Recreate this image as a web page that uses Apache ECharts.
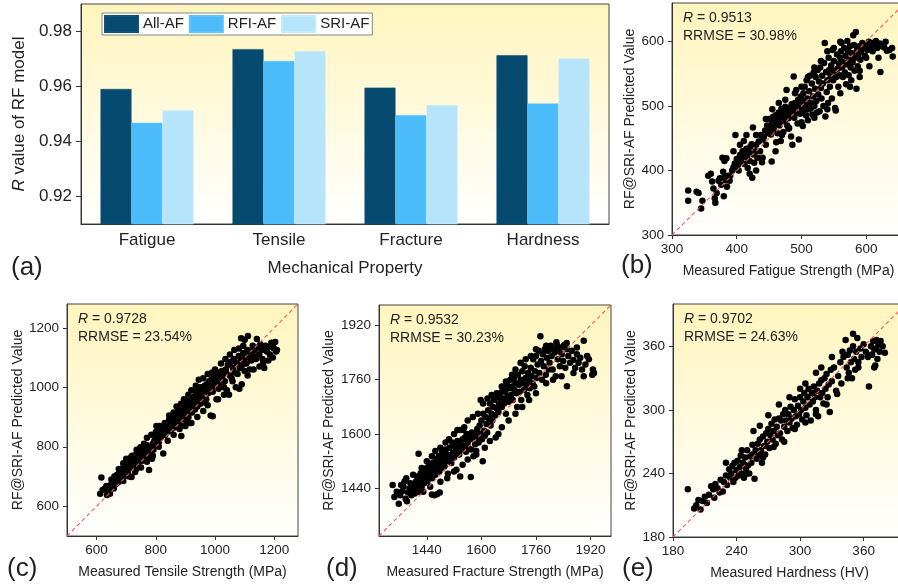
<!DOCTYPE html>
<html>
<head>
<meta charset="utf-8">
<script src="https://cdn.jsdelivr.net/npm/echarts@6/dist/echarts.min.js"></script>
<style>html,body{margin:0;padding:0;background:#fff;}#c{width:898px;height:585px;}</style>
</head>
<body>
<div id="c"></div>
<script>
// ---------- DATA ----------
const categories = ['Fatigue', 'Tensile', 'Fracture', 'Hardness'];
const seriesNames = ['All-AF', 'RFI-AF', 'SRI-AF'];
const allAF = [0.9591, 0.9736, 0.9596, 0.9714];
const rfiAF = [0.9468, 0.9693, 0.9496, 0.9538];
const sriAF = [0.9513, 0.9728, 0.9532, 0.9702];
const barYTicks = [0.92, 0.94, 0.96, 0.98];

const fatigueTicks = [300, 400, 500, 600];
const tensileTicks = [600, 800, 1000, 1200];
const fractureTicks = [1440, 1600, 1760, 1920];
const hardnessTicks = [180, 240, 300, 360];

const fatigueRange = [300, 660];
const tensileRange = [500, 1280];
const fractureRange = [1300, 1980];
const hardnessRange = [180, 400];

const fatigueStats = ['0.9513', '30.98%'];
const tensileStats = ['0.9728', '23.54%'];
const fractureStats = ['0.9532', '30.23%'];
const hardnessStats = ['0.9702', '24.63%'];

const fatiguePts = [
[325,369],[325,353],[338,367],[341,365],[345,341],[347,353],[356,392],[360,395],[362,383],[364,372],[366,357],[367,350],[369,365],[372,384],[374,388],[376,378],[379,398],[380,360],[381,390],[383,385],[385,375],[387,392],[389,384],
[378,420],[381,415],[384,419],[390,392],[393,400],[395,405],[397,411],[398,455],[400,418],[402,409],[403,400],[405,424],[406,415],[408,420],[409,430],[411,446],[412,410],[413,425],[415,434],[416,420],[417,404],[419,428],[420,415],[421,437],[423,441],[424,389],[425,467],[426,425],[427,412],[429,430],[430,440],[432,420],[434,445],[436,430],[437,455],
[439,413],[440,448],[442,452],[444,462],[445,440],[447,470],[449,458],[450,480],[451,466],[453,456],[454,414],[455,475],[456,483],[457,465],[459,472],[460,486],[461,444],[462,478],[463,458],[465,490],[466,470],[467,482],[468,446],[469,496],[470,476],[471,488],[472,460],[473,491],[474,478],[475,499],[476,485],[477,525],[478,470],[479,492],[480,481],[481,466],[482,497],[483,487],[484,453],[485,503],[486,440],[487,495],[488,546],[489,482],[490,505],[491,489],[492,525],[493,498],[494,473],[495,510],[496,448],[497,502],[498,488],[499,515],[500,497],
[501,508],[502,469],[503,520],[504,492],[505,530],[506,502],[507,486],[508,540],[509,512],[510,478],[511,495],[512,523],[513,547],[514,505],[515,497],[516,535],[517,487],[518,515],[519,552],[520,500],[521,527],[522,545],[523,508],[524,490],[525,556],[526,518],[527,538],[528,492],[529,560],[530,528],[531,512],[532,547],[533,535],[534,500],[535,567],[536,598],[537,484],[538,553],[539,522],[540,540],[541,505],[542,575],[543,556],[544,530],[545,548],[546,563],[547,512],[548,587],[549,540],[550,570],[551,555],[552,497],[553,493],[554,545],[555,580],[556,558],[557,530],[558,566],[559,548],[560,575],
[561,585],[562,598],[563,560],[564,545],[565,568],[566,590],[567,552],[568,578],[569,534],[570,565],[571,601],[572,585],[573,548],[574,572],[575,593],[576,560],[577,540],[578,582],[579,568],[580,610],[581,595],[582,555],[583,575],[584,615],[585,527],[586,588],[587,562],[588,580],[589,593],[590,545],[591,572],[592,585],[594,598],[596,590],[598,578],[600,595],[602,587],[604,600],[605,562],[607,592],[609,598],[612,596],[615,601],[617,590],[619,575],[621,597],[622,553],[625,593],[628,591],[632,586],[636,587],[641,577],
[395,430],[405,440],[415,455],[430,455],[445,480],[455,495],[465,505],[475,510],[490,520],[500,530],[510,545],[520,560],[530,570],[540,585],[550,590],[560,600],[470,455],[480,465],[500,475],[520,482],[540,495],[560,520],[575,530],[590,555],[600,575],[610,585],[630,600],[640,590],[420,395],[440,420],[460,430],[430,400]
];

const tensilePts = [
[612,642],[616,697],[628,660],[635,638],[640,650],[645,642],[648,672],[652,665],[655,685],[658,660],[662,690],[665,675],[668,705],[670,695],[672,680],[675,710],[678,700],[680,690],[683,720],[686,705],[688,715],[690,730],[692,700],[695,740],[697,718],[700,725],
[702,750],[704,735],[706,710],[708,745],[710,728],[712,755],[714,740],[716,765],[718,698],[720,748],[722,760],[724,735],[726,770],[728,752],[730,740],[732,762],[734,725],[736,780],[738,758],[740,745],[742,770],[745,790],[747,760],[750,775],[752,752],[755,785],[757,768],[760,795],[762,778],[765,760],[767,790],[770,805],[772,770],[775,795],[777,722],[780,785],[782,800],[785,770],[787,760],[790,810],[792,790],[795,820],[798,805],[800,835],
[802,870],[804,850],[806,825],[808,840],[810,815],[812,855],[814,845],[816,830],[818,860],[820,838],[822,848],[825,777],[827,870],[830,855],[832,840],[834,875],[836,860],[838,850],[840,880],[843,865],[845,892],[848,870],[850,855],[852,885],[855,900],[857,875],[860,890],[862,865],[865,905],[867,885],[870,915],[872,895],[875,880],[877,920],[880,905],[882,890],[885,925],[887,870],[890,910],[892,935],[895,900],[897,920],[900,890],
[902,945],[904,910],[906,930],[908,955],[910,900],[912,925],[914,945],[916,880],[918,935],[920,955],[922,915],[925,960],[927,940],[930,970],[932,925],[935,950],[937,985],[940,935],[942,960],[945,1000],[947,975],[950,945],[952,990],[955,1000],[957,965],[960,985],[962,950],[965,1005],[967,990],[970,960],[972,1010],[975,995],[977,980],[980,1020],[982,1000],[985,905],[987,1025],[990,995],[992,985],[995,1035],[997,1010],[1000,1040],
[1002,1015],[1005,960],[1008,1045],[1010,1025],[1012,995],[1015,1050],[1018,1035],[1020,1010],[1023,1055],[1026,1040],[1030,1000],[1033,1020],[1036,1060],[1040,990],[1043,1075],[1047,975],[1050,1040],[1053,1085],[1056,1030],[1060,1065],[1063,1095],[1066,1050],[1070,1000],[1073,1080],[1076,1045],[1080,1105],[1083,1065],[1086,1090],[1088,1165],[1090,1010],[1092,1075],[1095,1115],[1098,1095],[1100,1055],
[1103,1110],[1106,1080],[1109,1125],[1111,1172],[1114,1100],[1117,1060],[1120,1120],[1123,1090],[1127,1140],[1130,1105],[1134,1125],[1138,1095],[1141,1162],[1145,1135],[1149,1110],[1153,1145],[1157,1125],[1162,1080],[1166,1065],[1170,1140],[1175,1120],[1180,1135],[1185,1110],[1190,1150],[1195,1145],[1199,1130],[1203,1152],[1206,1120],[1209,1125],
[620,655],[633,668],[650,690],[660,700],[675,725],[690,745],[700,760],[720,770],[735,790],[748,798],[760,810],[770,830],[785,840],[800,850],[812,870],[830,880],[845,905],[860,915],[870,935],[885,945],[895,960],[910,975],[920,990],[935,1005],[945,1025],[960,1030],[975,1045],[990,1050],[1000,1060],[1020,1080],[1035,1095],[1050,1110],[1065,1125],[1080,1130],[1095,1140],[1100,1160],
[690,685],[710,700],[730,715],[750,730],[770,750],[790,770],[810,800],[840,820],[860,840],[880,860],[886,836],[900,870],[920,880],[940,900],[960,920],[975,940],[992,903],[1010,960],[1030,975],[1037,1053],[1059,1020],[1082,995],[1110,1040],[1130,1060],[1150,1070],[1160,1095],[1180,1090],[1195,1100]
];

const fracturePts = [
[1358,1395],[1362,1420],[1368,1432],[1372,1445],[1375,1461],[1378,1410],[1382,1402],[1385,1428],[1390,1440],[1395,1420],[1398,1435],[1402,1450],[1405,1425],[1408,1460],[1410,1440],[1412,1475],[1415,1455],[1416,1542],[1418,1430],[1420,1468],[1422,1485],[1425,1445],[1428,1490],[1430,1470],[1432,1455],[1435,1495],[1437,1480],[1440,1500],[1442,1462],[1445,1488],[1447,1512],[1450,1475],
[1455,1422],[1462,1420],[1470,1423],[1478,1428],
[1452,1500],[1455,1470],[1457,1515],[1460,1490],[1462,1505],[1465,1480],[1467,1525],[1470,1495],[1472,1510],[1475,1535],[1477,1490],[1480,1520],[1482,1500],[1485,1545],[1487,1515],[1490,1530],[1492,1505],[1495,1555],[1497,1520],[1500,1540],[1502,1483],[1505,1525],[1507,1560],[1510,1535],[1512,1515],[1515,1575],[1517,1545],[1520,1530],[1522,1565],[1525,1550],[1527,1495],[1530,1580],[1532,1560],[1535,1540],[1537,1612],[1540,1570],[1542,1555],[1545,1585],[1547,1612],[1550,1565],
[1538,1475],[1569,1474],
[1552,1590],[1555,1548],[1557,1600],[1560,1575],[1562,1560],[1565,1595],[1567,1585],[1570,1555],[1572,1605],[1575,1590],[1577,1535],[1580,1600],[1582,1570],[1585,1550],[1588,1615],[1590,1590],[1592,1575],[1595,1625],[1597,1600],[1600,1640],[1602,1585],[1604,1520],[1606,1660],[1608,1610],[1610,1595],[1612,1650],[1615,1630],[1617,1605],[1620,1670],[1622,1645],[1625,1690],[1627,1625],[1630,1660],[1632,1640],[1635,1680],[1637,1700],[1640,1655],[1642,1590],[1645,1675],[1647,1710],[1650,1665],[1598,1700],
[1652,1690],[1655,1720],[1657,1700],[1660,1680],[1662,1735],[1665,1705],[1667,1690],[1670,1725],[1672,1660],[1675,1745],[1677,1710],[1680,1695],[1682,1735],[1685,1760],[1687,1715],[1690,1740],[1692,1700],[1695,1765],[1697,1730],[1700,1750],[1702,1720],[1705,1680],[1707,1775],[1710,1745],[1712,1725],[1715,1760],[1717,1700],[1720,1785],[1722,1750],[1725,1730],[1727,1800],[1730,1765],[1732,1745],[1735,1715],[1737,1780],[1740,1760],[1742,1735],[1745,1795],[1747,1770],[1750,1750],
[1752,1820],[1755,1740],[1757,1785],[1760,1830],[1762,1765],[1765,1805],[1768,1845],[1770,1780],[1773,1888],[1775,1815],[1778,1760],[1780,1835],[1783,1800],[1786,1850],[1789,1775],[1792,1825],[1795,1845],[1798,1790],[1800,1810],[1803,1860],[1806,1830],[1809,1790],[1812,1850],[1815,1840],[1818,1770],[1821,1862],[1824,1820],[1827,1845],[1830,1800],[1833,1855],[1836,1835],[1840,1815],[1843,1862],[1846,1795],[1850,1850],[1851,1741],[1855,1830],[1860,1810],[1865,1845],[1870,1818],[1875,1795],[1880,1835],[1885,1810],[1890,1825],[1895,1790],[1900,1875],[1905,1805],[1910,1830],[1915,1820],[1927,1790],[1930,1780],
[1340,1450],[1345,1415],[1352,1430],[1365,1450],[1380,1470],[1392,1455],[1400,1480],[1425,1500],[1440,1520],[1455,1535],[1465,1550],[1480,1560],[1495,1575],[1505,1585],[1520,1600],[1530,1612],[1550,1620],[1560,1640],[1575,1650],[1590,1660],[1605,1690],[1618,1705],[1630,1715],[1645,1720],[1660,1740],[1672,1755],[1690,1775],[1700,1790],[1715,1810],[1730,1820],[1745,1830],[1760,1850],[1790,1860],[1820,1870],[1850,1868],[1880,1855],
[1430,1430],[1450,1445],[1480,1460],[1500,1470],[1520,1490],[1545,1510],[1560,1525],[1585,1540],[1610,1560],[1625,1580],[1650,1600],[1660,1620],[1680,1640],[1700,1660],[1720,1680],[1740,1700],[1760,1720],[1790,1750],[1810,1760],[1835,1770],[1870,1780],[1900,1770],[1925,1775]
];

const hardnessPts = [
[194,225],[200,207],[202,210],[204,215],[206,206],[208,214],[210,218],[212,212],[214,220],[216,228],[218,225],[219,217],[220,230],[222,226],[224,222],[225,234],[227,223],[228,232],[230,238],[231,229],[233,244],[234,236],[235,240],[236,247],[237,232],[238,250],[239,236],[240,243],
[241,252],[242,238],[243,246],[244,257],[245,240],[246,250],[247,236],[248,255],[249,245],[250,262],[251,248],[252,240],[253,256],[254,250],[255,267],[256,280],[257,235],[258,262],[259,254],[260,268],[261,258],[262,272],[263,262],[264,250],[265,275],[266,266],[267,258],[268,278],[269,270],[270,282],[271,264],[272,276],[273,287],[274,272],[275,280],[276,291],[277,268],[278,284],[279,276],[280,292],
[281,278],[282,290],[283,272],[284,296],[285,284],[286,300],[287,290],[288,280],[289,296],[290,288],[291,303],[292,292],[293,283],[294,300],[295,310],[296,294],[297,286],[298,304],[299,296],[300,312],[301,300],[302,291],[303,308],[304,316],[305,302],[306,295],[307,312],[308,320],[309,305],[310,290],[311,316],[312,308],[313,322],[314,312],[315,300],[316,318],[317,294],[318,325],[319,312],[320,328],
[321,316],[322,306],[323,330],[324,320],[325,334],[326,312],[327,324],[328,298],[329,338],[330,327],[332,340],[334,318],[336,332],[338,345],[339,325],[341,350],[343,366],[344,340],[345,352],[346,335],[347,356],[348,345],[349,330],[350,360],[351,348],[352,338],[353,355],[354,368],[355,345],[357,358],[358,350],[360,362],[362,355],[364,350],[365,322],[367,360],[368,352],[369,365],[370,357],[371,342],[372,358],[373,348],[374,362],[375,355],[376,365],[378,360],[380,354],
[230,250],[245,262],[255,258],[262,285],[270,295],[280,305],[290,312],[300,320],[305,325],[315,335],[320,340],[330,350],[340,355],[350,372],[250,240],[265,255],[275,265],[285,270],[295,282],[305,288],[315,296],[325,305],[335,315],[345,330],[355,340],[370,340],[372,366],[367,352]
];

// ---------- LAYOUT / STYLE ----------
const FONT = "'Liberation Sans', Arial, Helvetica, sans-serif";
const AXC = '#333';
const TXT = '#222';
const bgGrad = {type:'linear', x:0, y:0, x2:0, y2:1, colorStops:[{offset:0,color:'#fff5bd'},{offset:1,color:'#ffffff'}]};

const grids = [
  {left:81, top:4, width:528, height:220},
  {left:672, top:3, width:233, height:232},
  {left:67, top:304, width:231, height:232},
  {left:379, top:305, width:232, height:231},
  {left:673, top:304, width:233, height:233}
];
grids.forEach(g => { g.show = true; g.backgroundColor = bgGrad; g.borderColor = '#444'; g.borderWidth = 1; g.containLabel = false; g.outerBoundsMode = 'none'; });

const panels = [
  {range: fatigueRange, ticks: fatigueTicks, pts: fatiguePts, stats: fatigueStats, xName: 'Measured Fatigue Strength (MPa)', yGap: 32, label:'(b)', lx:621, ly:268},
  {range: tensileRange, ticks: tensileTicks, pts: tensilePts, stats: tensileStats, xName: 'Measured Tensile Strength (MPa)', yGap: 40, label:'(c)', lx:7, ly:571},
  {range: fractureRange, ticks: fractureTicks, pts: fracturePts, stats: fractureStats, xName: 'Measured Fracture Strength (MPa)', yGap: 43, label:'(d)', lx:326, ly:571},
  {range: hardnessRange, ticks: hardnessTicks, pts: hardnessPts, stats: hardnessStats, xName: 'Measured Hardness (HV)', yGap: 32, label:'(e)', lx:622, ly:571}
];

const xAxes = [{
  type:'category', gridIndex:0, data: categories,
  axisLine:{lineStyle:{color:AXC, width:1}},
  axisTick:{alignWithLabel:true, length:5, lineStyle:{color:AXC}},
  axisLabel:{fontFamily:FONT, fontSize:17, color:TXT, margin:8},
  name:'Mechanical Property', nameLocation:'middle', nameGap:36,
  nameTextStyle:{fontFamily:FONT, fontSize:17, color:TXT}
}];
const yAxes = [{
  type:'value', gridIndex:0, min:0.91, max:0.99,
  axisLine:{show:true, lineStyle:{color:AXC, width:1}},
  axisTick:{show:true, length:5, customValues: barYTicks, lineStyle:{color:AXC}},
  axisLabel:{fontFamily:FONT, fontSize:17, color:TXT, margin:9, customValues: barYTicks, formatter: v => Number(v).toFixed(2)},
  splitLine:{show:false},
  name:'{i|R} value of RF model', nameLocation:'middle', nameGap:45, nameRotate:90,
  nameTextStyle:{fontFamily:FONT, fontSize:17, color:TXT, rich:{i:{fontFamily:FONT, fontSize:17, color:TXT, fontStyle:'italic'}}}
}];

const series = [];
seriesNames.forEach((n, k) => {
  const vals = [allAF, rfiAF, sriAF][k];
  const col = ['#064a70', '#4cbcfa', '#b6e5fb'][k];
  series.push({
    type:'bar', name:n, xAxisIndex:0, yAxisIndex:0, data: vals,
    barWidth:31, barGap:'0%', itemStyle:{color:col, borderColor: ['#0d5378','#5ec4f7','#c4ebfc'][k], borderWidth:0.6}
  });
});

const graphics = [
  {type:'text', left:11, top:255, style:{text:'(a)', font:'26px ' + FONT, fill:TXT}}
];

panels.forEach((p, i) => {
  const gi = i + 1;
  const g = grids[gi];
  xAxes.push({
    type:'value', gridIndex:gi, min:p.range[0], max:p.range[1],
    axisLine:{show:true, onZero:false, lineStyle:{color:AXC, width:1}},
    axisTick:{show:true, length:4, customValues:p.ticks, lineStyle:{color:AXC}},
    axisLabel:{fontFamily:FONT, fontSize:13.5, color:TXT, margin:7, customValues:p.ticks, formatter: v => String(v)},
    splitLine:{show:false},
    name:p.xName, nameLocation:'middle', nameGap:29,
    nameTextStyle:{fontFamily:FONT, fontSize:14, color:TXT}
  });
  yAxes.push({
    type:'value', gridIndex:gi, min:p.range[0], max:p.range[1],
    axisLine:{show:true, onZero:false, lineStyle:{color:AXC, width:1}},
    axisTick:{show:true, length:4, customValues:p.ticks, lineStyle:{color:AXC}},
    axisLabel:{fontFamily:FONT, fontSize:13.5, color:TXT, margin:8, customValues:p.ticks, formatter: v => String(v)},
    splitLine:{show:false},
    name:'RF@SRI-AF Predicted Value', nameLocation:'middle', nameGap:p.yGap,
    nameTextStyle:{fontFamily:FONT, fontSize:14, color:TXT}
  });
  series.push({
    type:'scatter', xAxisIndex:gi, yAxisIndex:gi, data:p.pts,
    symbolSize:6.5, itemStyle:{color:'#000000', opacity:1}, silent:true, z:3
  });
  series.push({
    type:'line', xAxisIndex:gi, yAxisIndex:gi,
    data:[[p.range[0], p.range[0]], [p.range[1], p.range[1]]],
    symbol:'none', silent:true, z:4,
    lineStyle:{color:'#ef5a63', width:1.1, type:[4,3]}
  });
  graphics.push({type:'text', left:g.left + 11, top:g.top + 8,
    style:{text:'{i|R} = ' + p.stats[0], font:'14px ' + FONT, fill:TXT,
      rich:{i:{fontStyle:'italic', fontSize:14, fontFamily:FONT, fill:TXT}}}});
  graphics.push({type:'text', left:g.left + 11, top:g.top + 26,
    style:{text:'RRMSE = ' + p.stats[1], font:'14px ' + FONT, fill:TXT}});
  graphics.push({type:'text', left:p.lx, top:p.ly - 15, style:{text:p.label, font:'26px ' + FONT, fill:TXT}});
});

const chart = echarts.init(document.getElementById('c'), null, {renderer:'canvas'});
chart.setOption({
  animation:false,
  backgroundColor:'#ffffff',
  grid: grids,
  legend:{
    data: seriesNames, left:102, top:13, orient:'horizontal',
    itemWidth:33, itemHeight:16, itemGap:5, icon:'rect',
    padding:[2,3,2,2], borderColor:'#888', borderWidth:1, backgroundColor:'#ffffff',
    textStyle:{fontFamily:FONT, fontSize:15, color:TXT}
  },
  xAxis: xAxes,
  yAxis: yAxes,
  series: series,
  graphic: graphics
});
</script>
</body>
</html>
